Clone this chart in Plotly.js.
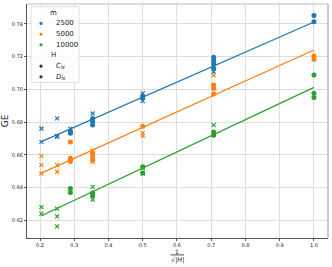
<!DOCTYPE html>
<html>
<head>
<meta charset="utf-8">
<script src="https://cdn.plot.ly/plotly-3.0.1.min.js"></script>
<style>html,body{margin:0;padding:0;background:#fff;}#chart{width:332px;height:267px;}</style>
</head>
<body>
<div id="chart"></div>
<script>
// ---- data (x = 1/sqrt(|H|)) ----
const mLabels = ['2500', '5000', '10000'];
const groupLabels = ['<i>C</i><sub><i>N</i></sub>', '<i>D</i><sub><i>N</i></sub>'];

// m = 2500
const xC_2500 = [1.0, 1.0, 0.7071, 0.7071, 0.7071, 0.7071, 0.5, 0.5, 0.3536, 0.3536, 0.3536, 0.2887, 0.2887];
const yC_2500 = [0.7451, 0.7414, 0.7196, 0.7175, 0.7155, 0.7129, 0.6960, 0.6947, 0.6822, 0.6802, 0.6782, 0.6745, 0.6732];
const xD_2500 = [0.7071, 0.5, 0.5, 0.3536, 0.2887, 0.25, 0.25, 0.25, 0.2041, 0.2041];
const yD_2500 = [0.7108, 0.6976, 0.6928, 0.6853, 0.6760, 0.6823, 0.6716, 0.6710, 0.6761, 0.6679];

// m = 5000
const xC_5000 = [1.0, 1.0, 0.7071, 0.7071, 0.7071, 0.5, 0.3536, 0.3536, 0.3536, 0.2887, 0.2887, 0.2887, 0.2887];
const yC_5000 = [0.7204, 0.7184, 0.7027, 0.7006, 0.6972, 0.6775, 0.6610, 0.6590, 0.6568, 0.6679, 0.6580, 0.6570, 0.6560];
const xD_5000 = [0.7071, 0.5, 0.5, 0.3536, 0.3536, 0.25, 0.25, 0.2041, 0.2041, 0.2041];
const yD_5000 = [0.7086, 0.6733, 0.6716, 0.6626, 0.6557, 0.6537, 0.6497, 0.6592, 0.6537, 0.6486];

// m = 10000
const xC_10000 = [1.0, 1.0, 1.0, 0.7071, 0.7071, 0.5, 0.5, 0.3536, 0.3536, 0.2887, 0.2887];
const yC_10000 = [0.7088, 0.6976, 0.6951, 0.6740, 0.6720, 0.6527, 0.6489, 0.6367, 0.6350, 0.6394, 0.6370];
const xD_10000 = [0.7071, 0.5, 0.5, 0.3536, 0.3536, 0.25, 0.25, 0.25, 0.2041, 0.2041];
const yD_10000 = [0.6782, 0.6520, 0.6485, 0.6404, 0.6327, 0.6272, 0.6224, 0.6163, 0.6281, 0.6241];

// regression lines
const fitX = [0.2041, 1.0];
const fit_2500 = [0.6681, 0.7412];
const fit_5000 = [0.6488, 0.7241];
const fit_10000 = [0.6228, 0.7012];

const xTicks = [0.2, 0.3, 0.4, 0.5, 0.6, 0.7, 0.8, 0.9, 1.0];
const yTicks = [0.62, 0.64, 0.66, 0.68, 0.70, 0.72, 0.74];

// ---- styling / layout ----
const colors = ['#1f77b4', '#ff7f0e', '#2ca02c'];
const W = 332, H = 267, mL = 27, mR = 4, mT = 4, mB = 29.3;
const px = x => (x - mL) / (W - mL - mR);
const py = y => (H - mB - y) / (H - mT - mB);

const series = [
  [xC_2500, yC_2500, xD_2500, yD_2500, fit_2500],
  [xC_5000, yC_5000, xD_5000, yD_5000, fit_5000],
  [xC_10000, yC_10000, xD_10000, yD_10000, fit_10000]
];

const traces = [];
series.forEach((s, i) => {
  const c = colors[i];
  traces.push({x: fitX, y: s[4], mode: 'lines', line: {color: c, width: 1.3}, showlegend: false, hoverinfo: 'skip'});
  traces.push({x: s[0], y: s[1], mode: 'markers', name: mLabels[i] + ' C', showlegend: false,
    marker: {symbol: 'circle', size: 5, color: c}});
  traces.push({x: s[2], y: s[3], mode: 'markers', name: mLabels[i] + ' D', showlegend: false,
    marker: {symbol: 'x-thin', size: 4, color: c, line: {color: c, width: 1.2}}});
});

// hand-made legend (matplotlib style)
const legendRows = ['m'].concat(mLabels, ['H'], groupLabels);
const legendDot = [null, colors[0], colors[1], colors[2], null, '#333', '#333'];
const shapes = [
  {type: 'line', xref: 'paper', yref: 'paper', x0: 0, x1: 1, y0: 1, y1: 1, line: {color: '#bbbbbb', width: 1.2}},
  {type: 'line', xref: 'paper', yref: 'paper', x0: 1, x1: 1, y0: 0, y1: 1, line: {color: '#bbbbbb', width: 1.5}},
  {type: 'rect', xref: 'paper', yref: 'paper', x0: px(31), x1: px(79), y0: py(82.3), y1: py(6.7),
    line: {color: '#dddddd', width: 1}, fillcolor: 'rgba(255,255,255,0.85)', layer: 'above'},
  // fraction bar of the x title
  {type: 'line', xref: 'paper', yref: 'paper', x0: px(170.5), x1: px(184), y0: py(254.6), y1: py(254.6), line: {color: '#222', width: 0.8}}
];
const annotations = [];
legendRows.forEach((t, i) => {
  const yy = 12.7 + i * 10.67;
  const isTitle = legendDot[i] === null;
  annotations.push({xref: 'paper', yref: 'paper', x: isTitle ? px(53.5) : px(54), y: py(yy),
    xanchor: isTitle ? 'center' : 'left', yanchor: 'middle', text: t, showarrow: false,
    font: {family: 'DejaVu Sans', size: 7, color: '#222'}});
  if (!isTitle) {
    shapes.push({type: 'circle', xref: 'paper', yref: 'paper', xsizemode: 'pixel', ysizemode: 'pixel',
      xanchor: px(41), yanchor: py(yy), x0: -1.6, x1: 1.6, y0: -1.6, y1: 1.6,
      fillcolor: legendDot[i], line: {width: 0}, layer: 'above'});
  }
});
annotations.push({xref: 'paper', yref: 'paper', x: px(177), y: py(251), xanchor: 'center', yanchor: 'middle',
  text: '1', showarrow: false, font: {family: 'DejaVu Sans', size: 6, color: '#222'}});
annotations.push({xref: 'paper', yref: 'paper', x: px(177.5), y: py(259.4), xanchor: 'center', yanchor: 'middle',
  text: '√|<i>H</i>|', showarrow: false, font: {family: 'DejaVu Sans', size: 6.5, color: '#222'}});

const layout = {
  width: W, height: H,
  margin: {l: mL, r: mR, t: mT, b: mB, pad: 0},
  paper_bgcolor: '#fff', plot_bgcolor: '#fff',
  showlegend: false,
  font: {family: 'DejaVu Sans', color: '#222'},
  xaxis: {range: [0.162, 1.041], tickvals: xTicks, ticktext: xTicks.map(v => v.toFixed(1)),
    showgrid: true, gridcolor: '#dddddd', gridwidth: 1, zeroline: false,
    showline: true, linecolor: '#555', linewidth: 1, ticks: 'outside', ticklen: 2, tickcolor: '#555',
    tickfont: {size: 5, color: '#222'}},
  yaxis: {range: [0.6092, 0.7522], tickvals: yTicks, ticktext: yTicks.map(v => v.toFixed(2)),
    showgrid: true, gridcolor: '#dddddd', gridwidth: 1, zeroline: false,
    showline: true, linecolor: '#555', linewidth: 1, ticks: 'outside', ticklen: 2, tickcolor: '#555',
    tickfont: {size: 5, color: '#222'},
    title: {text: 'GE', font: {size: 9, color: '#222'}, standoff: 4}},
  shapes: shapes,
  annotations: annotations
};

Plotly.newPlot('chart', traces, layout, {displayModeBar: false, staticPlot: true});
</script>
</body>
</html>
